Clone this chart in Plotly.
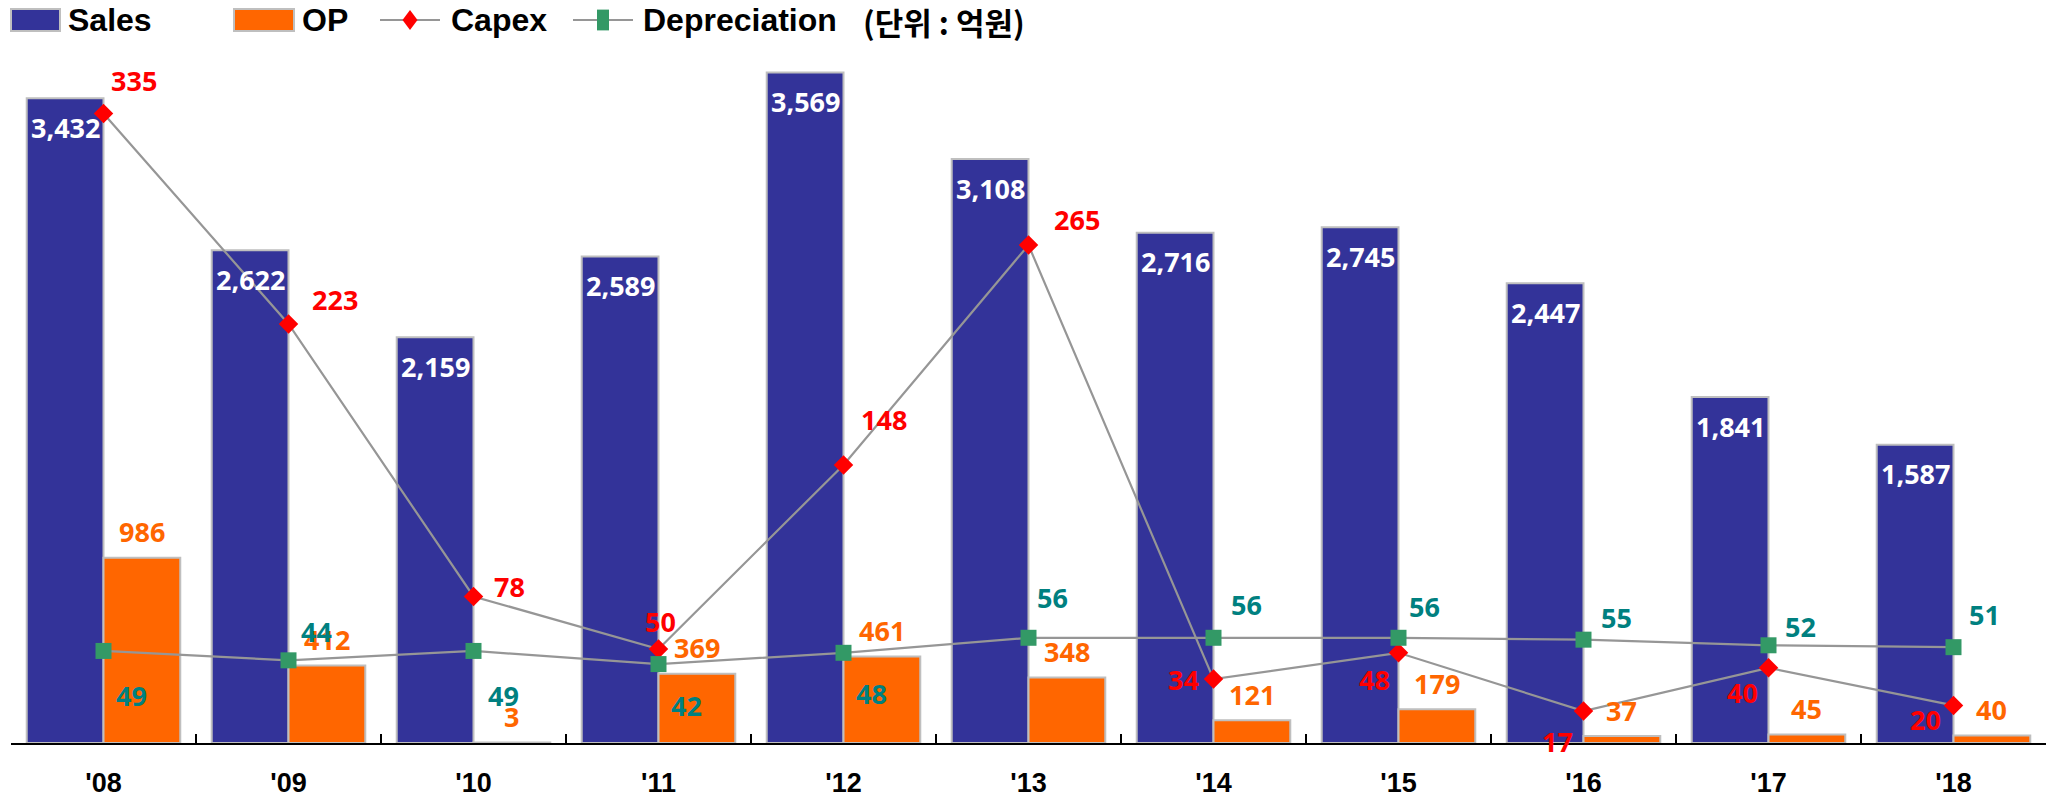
import plotly.graph_objects as go

# ---------------- data ----------------
years = ["'08", "'09", "'10", "'11", "'12", "'13", "'14", "'15", "'16", "'17", "'18"]
sales = [3432, 2622, 2159, 2589, 3569, 3108, 2716, 2745, 2447, 1841, 1587]
op = [986, 412, 3, 369, 461, 348, 121, 179, 37, 45, 40]
capex = [335, 223, 78, 50, 148, 265, 34, 48, 17, 40, 20]
depreciation = [49, 44, 49, 42, 48, 56, 56, 56, 55, 52, 51]

series_names = ["Sales", "OP", "Capex", "Depreciation"]
unit_text = "(단위 : 억원)"

# label placement (pixel offsets dx, dy; dy positive = downward)
capex_label_off = [(30, -33), (46, -24), (36, -10), (2, -28), (40, -45), (48, -26),
                   (-30, 0), (-24, 27), (-26, 30), (-26, 25), (-28, 14)]
dep_label_off = [(28, 45), (28, -29), (30, 45), (28, 41), (28, 41), (24, -40),
                 (33, -33), (26, -31), (33, -22), (32, -19), (31, -33)]

# ---------------- style ----------------
W, H = 2055, 800
L, R, T, B = 11, 9, 45, 57
pw, ph = W - L - R, H - T - B
PX_PER_UNIT = 0.1879
Y1_MAX = ph / PX_PER_UNIT
Y2_MAX = Y1_MAX / 10

C_SALES = "#333399"
C_OP = "#FF6600"
C_CAPEX = "#FF0000"
C_DEP = "#339966"
C_DEP_TXT = "#008080"
C_LINE = "#969696"
C_EDGE = "#BFBFBF"

BARGAP = 0.17
cat_px = pw / len(years)
bar_px = cat_px * (1 - BARGAP) / 2
half = bar_px / 2

LABEL_FONT = "Noto Sans, Open Sans, DejaVu Sans, sans-serif"
AXIS_FONT = "Liberation Sans, Arial, sans-serif"

fig = go.Figure()
fig.add_trace(go.Bar(x=years, y=sales, name=series_names[0],
                     marker=dict(color=C_SALES, line=dict(color=C_EDGE, width=2)),
                     showlegend=False))
fig.add_trace(go.Bar(x=years, y=op, name=series_names[1],
                     marker=dict(color=C_OP, line=dict(color=C_EDGE, width=2)),
                     showlegend=False))
fig.add_trace(go.Scatter(x=years, y=capex, name=series_names[2], yaxis="y2",
                         mode="lines+markers",
                         line=dict(color=C_LINE, width=2.2),
                         marker=dict(symbol="diamond", size=15, color=C_CAPEX),
                         showlegend=False))
fig.add_trace(go.Scatter(x=years, y=depreciation, name=series_names[3], yaxis="y2",
                         mode="lines+markers",
                         line=dict(color=C_LINE, width=2.2),
                         marker=dict(symbol="square", size=16, color=C_DEP),
                         showlegend=False))

ann = []
for i, yr in enumerate(years):
    ann.append(dict(x=yr, y=sales[i], xref="x", yref="y", text=f"{sales[i]:,}",
                    showarrow=False, xshift=-half, yshift=-29, yanchor="middle",
                    font=dict(family=LABEL_FONT, size=27, color="white", weight="bold")))
    ann.append(dict(x=yr, y=op[i], xref="x", yref="y", text=f"{op[i]:,}",
                    showarrow=False, xshift=half, yshift=26, yanchor="middle",
                    font=dict(family=LABEL_FONT, size=27, color=C_OP, weight="bold")))
    dx, dy = capex_label_off[i]
    ann.append(dict(x=yr, y=capex[i], xref="x", yref="y2", text=str(capex[i]),
                    showarrow=False, xshift=dx, yshift=-dy, yanchor="middle",
                    font=dict(family=LABEL_FONT, size=27, color=C_CAPEX, weight="bold")))
    dx, dy = dep_label_off[i]
    ann.append(dict(x=yr, y=depreciation[i], xref="x", yref="y2", text=str(depreciation[i]),
                    showarrow=False, xshift=dx, yshift=-dy, yanchor="middle",
                    font=dict(family=LABEL_FONT, size=27, color=C_DEP_TXT, weight="bold")))


# ---------------- custom legend (pixel -> paper) ----------------
def px(x):
    return (x - L) / pw


def py(y):
    return (H - B - y) / ph


LEG_Y = 20
LEG_FONT = dict(family=AXIS_FONT, size=32, color="black", weight="bold")
shapes = []
# Sales box
shapes.append(dict(type="rect", xref="paper", yref="paper", x0=px(11), x1=px(60),
                   y0=py(31), y1=py(9), fillcolor=C_SALES, line=dict(color=C_EDGE, width=2)))
ann.append(dict(x=px(66), y=py(LEG_Y), xref="paper", yref="paper", text=series_names[0],
                showarrow=False, xanchor="left", yanchor="middle", font=LEG_FONT))
# OP box
shapes.append(dict(type="rect", xref="paper", yref="paper", x0=px(234), x1=px(294),
                   y0=py(31), y1=py(9), fillcolor=C_OP, line=dict(color=C_EDGE, width=2)))
ann.append(dict(x=px(300), y=py(LEG_Y), xref="paper", yref="paper", text=series_names[1],
                showarrow=False, xanchor="left", yanchor="middle", font=LEG_FONT))
# Capex line + diamond
shapes.append(dict(type="line", xref="paper", yref="paper", x0=px(380), x1=px(440),
                   y0=py(LEG_Y), y1=py(LEG_Y), line=dict(color=C_LINE, width=2)))
cx = 410
d = 10
path = (f"M {px(cx)},{py(LEG_Y - d)} L {px(cx + d * 0.75)},{py(LEG_Y)} "
        f"L {px(cx)},{py(LEG_Y + d)} L {px(cx - d * 0.75)},{py(LEG_Y)} Z")
shapes.append(dict(type="path", xref="paper", yref="paper", path=path,
                   fillcolor=C_CAPEX, line=dict(color=C_CAPEX, width=0)))
ann.append(dict(x=px(449), y=py(LEG_Y), xref="paper", yref="paper", text=series_names[2],
                showarrow=False, xanchor="left", yanchor="middle", font=LEG_FONT))
# Depreciation line + square
shapes.append(dict(type="line", xref="paper", yref="paper", x0=px(573), x1=px(633),
                   y0=py(LEG_Y), y1=py(LEG_Y), line=dict(color=C_LINE, width=2)))
sx = 603
s = 8
shapes.append(dict(type="rect", xref="paper", yref="paper", x0=px(sx - s * 0.75), x1=px(sx + s * 0.75),
                   y0=py(LEG_Y + s * 1.3), y1=py(LEG_Y - s * 1.3), fillcolor=C_DEP,
                   line=dict(color=C_DEP, width=0)))
ann.append(dict(x=px(641), y=py(LEG_Y), xref="paper", yref="paper", text=series_names[3],
                showarrow=False, xanchor="left", yanchor="middle", font=LEG_FONT))
ann.append(dict(x=px(861), y=py(LEG_Y + 1), xref="paper", yref="paper", text=unit_text,
                showarrow=False, xanchor="left", yanchor="middle",
                font=dict(family="Noto Sans CJK KR, sans-serif", size=31, color="black", weight="bold")))

fig.update_layout(
    width=W, height=H,
    margin=dict(l=L, r=R, t=T, b=B, autoexpand=False),
    paper_bgcolor="white", plot_bgcolor="white",
    barmode="group", bargap=BARGAP, bargroupgap=0,
    showlegend=False,
    xaxis=dict(type="category", tickson="boundaries", ticks="inside", ticklen=9,
               tickwidth=2, tickcolor="black", showline=True, linecolor="black",
               linewidth=2, showgrid=False, zeroline=False, automargin=False,
               range=[-0.5, len(years) - 0.5], autorange=False,
               tickfont=dict(family=AXIS_FONT, size=27, color="black", weight="bold"),
               ticklabelstandoff=15),
    yaxis=dict(range=[0, Y1_MAX], visible=False, showgrid=False, zeroline=False,
               automargin=False, autorange=False),
    yaxis2=dict(range=[0, Y2_MAX], overlaying="y", side="right", visible=False,
                showgrid=False, zeroline=False, automargin=False, autorange=False),
    annotations=ann,
    shapes=shapes,
)

fig.write_html("out.html", config={"displayModeBar": False},
               post_script="document.body.style.margin='0';")
